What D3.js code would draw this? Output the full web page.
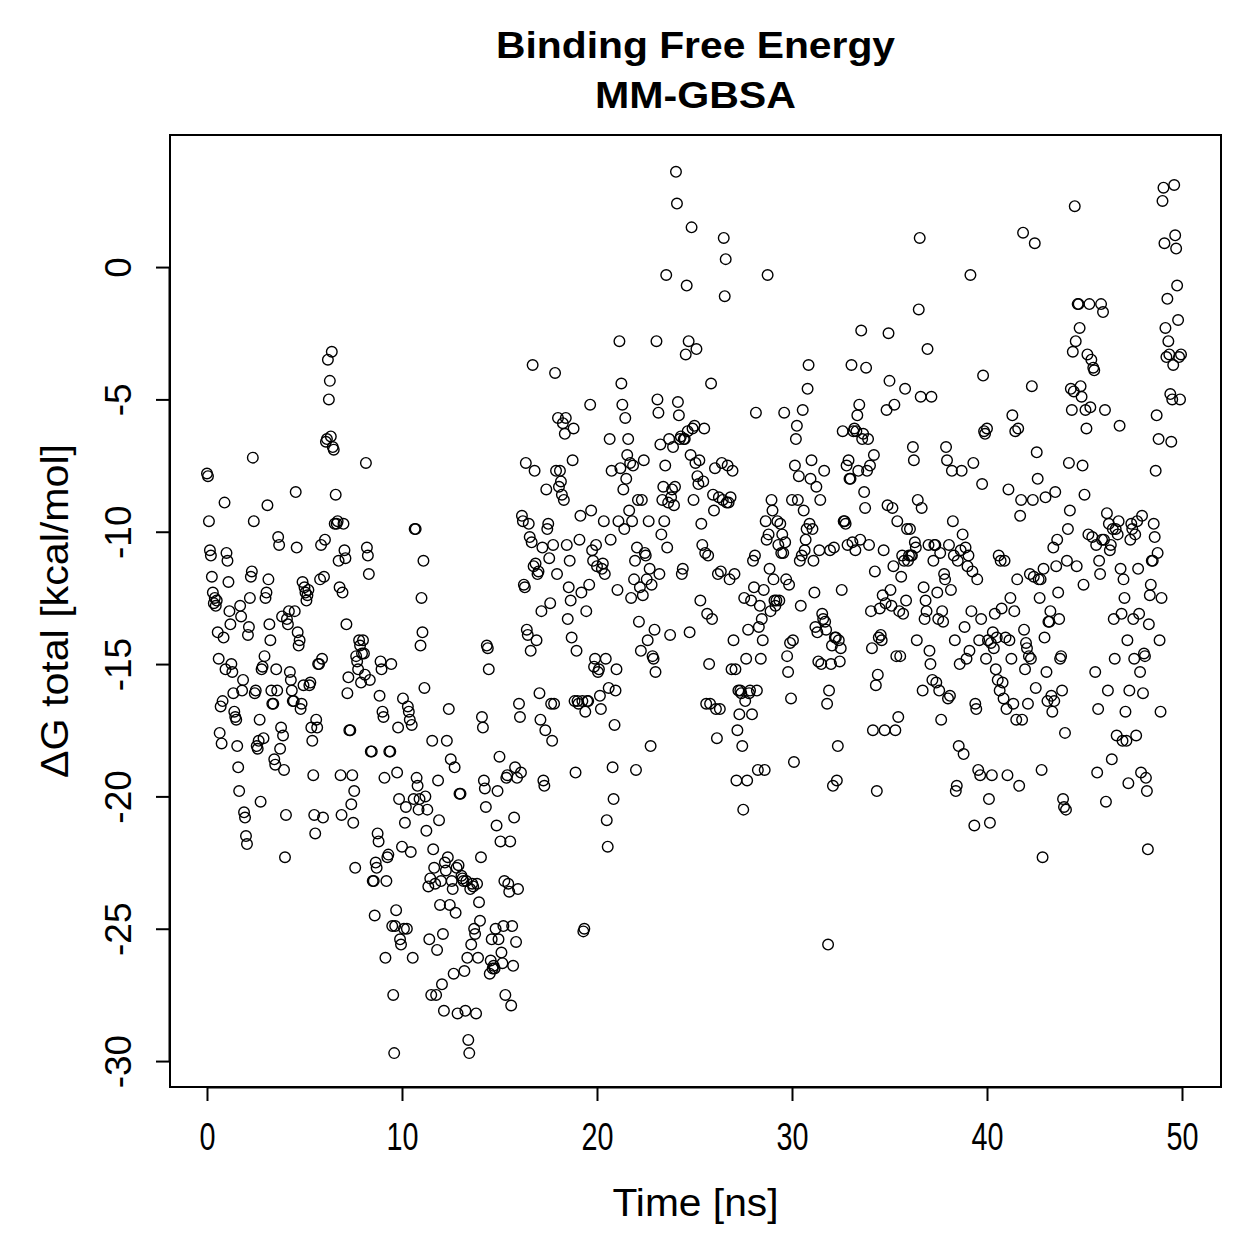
<!DOCTYPE html>
<html>
<head>
<meta charset="utf-8">
<script src="https://cdn.jsdelivr.net/npm/d3@7/dist/d3.min.js"></script>
<style>
  html, body { margin: 0; padding: 0; background: #fff; }
  text { font-family: "Liberation Sans", Arial, Helvetica, sans-serif; fill: #000; }
</style>
</head>
<body>
<svg id="chart" width="1259" height="1259"></svg>
<script>
// ---- data, one row per nanosecond ----
const titleLines = ["Binding Free Energy", "MM-GBSA"];
const xLabel = "Time [ns]";
const yLabel = "ΔG total [kcal/mol]";
const xTicks = [0, 10, 20, 30, 40, 50];
const yTicks = [0, -5, -10, -15, -20, -25, -30];

const deltaG = [
 [-7.8,-7.9,-9.6,-10.7,-10.9,-11.7,-12.3,-12.7,-12.5,-12.8,-12.6,-13.8,-14.8,-17.6,-16.6,-18.0,-16.4,-14.0,-8.9,-15.2],
 [-10.8,-11.1,-11.9,-13.0,-13.5,-15.0,-15.3,-16.1,-16.8,-17.0,-17.1,-18.1,-18.9,-19.8,-12.8,-13.2,-16.0,-15.6,-20.6,-20.8],
 [-21.5,-21.8,-13.9,-13.6,-12.5,-11.7,-11.5,-7.2,-9.6,-16.1,-16.0,-18.1,-18.2,-17.9,-17.1,-20.2,-15.2,-15.1,-17.8,-14.7],
 [-12.5,-12.3,-9.0,-11.8,-13.5,-14.1,-16.0,-16.5,-16.5,-18.6,-18.8,-15.2,-16.0,-10.2,-10.5,-18.2,-17.4,-13.2,-17.7,-19.0],
 [-22.3,-20.7,-13.3,-13.5,-13.0,-15.3,-15.6,-16.0,-16.4,-16.4,-13.0,-8.5,-10.6,-13.8,-14.3,-14.1,-16.7,-16.5,-11.9,-15.8],
 [-12.1,-12.3,-12.6,-12.4,-12.2,-15.8,-15.7,-17.4,-17.9,-19.2,-20.7,-21.4,-17.1,-17.4,-15.0,-15.0,-11.8,-10.5,-14.8,-20.8],
 [-11.7,-10.3,-6.6,-6.5,-3.5,-5.0,-4.3,-6.4,-3.2,-6.8,-6.9,-9.7,-8.6,-9.7,-9.6,-11.1,-12.1,-19.2,-20.7,-12.3],
 [-9.7,-10.7,-11.0,-13.5,-16.1,-15.5,-17.5,-17.5,-20.3,-19.2,-21.0,-19.8,-22.7,-14.7,-14.9,-15.2,-14.1,-14.3,-15.7,-14.6],
 [-14.1,-14.6,-15.4,-7.4,-10.6,-10.9,-11.6,-15.6,-18.3,-18.3,-23.2,-23.2,-24.5,-22.5,-22.7,-21.4,-21.7,-16.2,-14.9,-15.2],
 [-16.8,-17.0,-19.3,-26.1,-23.2,-22.3,-22.2,-18.3,-18.3,-15.0,-24.9,-27.5,-29.7,-24.9,-24.3,-19.1,-17.4,-20.1,-25.4,-25.6],
 [-21.9,-16.3,-25.0,-21.0,-20.4,-25.0,-16.6,-16.8,-17.1,-22.1,-17.3,-26.1,-20.1,-9.9,-9.9,-19.3,-19.6,-20.5,-20.1,-14.3],
 [-12.5,-13.8,-11.1,-15.9,-20.0,-21.3,-20.5,-23.4,-25.4,-23.1,-27.5,-17.9,-22.0,-22.7,-23.3,-27.5,-25.8,-19.4,-20.9,-24.1],
 [-23.2,-27.1,-25.2,-28.1,-22.5,-22.8,-17.9,-22.3,-16.7,-24.1,-18.6,-23.2,-23.5,-26.7,-18.9,-24.4,-22.7,-28.2,-22.6,-19.9],
 [-19.9,-23.0,-23.1,-23.2,-26.6,-28.1,-23.2,-26.1,-29.2,-29.7,-23.5,-25.6,-23.3,-23.4,-25.0,-25.2,-28.2,-23.3,-26.1,-24.0],
 [-24.7,-22.3,-17.0,-17.4,-19.4,-19.7,-20.4,-14.3,-14.4,-15.2,-26.7,-26.2,-25.4,-26.5,-26.4,-26.5,-25.0,-21.1,-19.8,-25.4],
 [-18.5,-21.7,-25.9,-26.3,-24.9,-23.2,-27.5,-19.3,-19.2,-23.3,-23.6,-21.7,-27.9,-24.9,-26.4,-20.8,-18.9,-25.5,-19.3,-23.5],
 [-16.5,-17.0,-19.1,-9.4,-9.6,-12.0,-12.1,-7.4,-13.7,-13.9,-9.7,-10.2,-14.5,-10.4,-3.7,-11.3,-7.7,-11.2,-14.1,-11.6],
 [-11.5,-16.1,-17.1,-13.0,-10.6,-19.4,-19.6,-17.5,-8.4,-9.9,-9.7,-11.0,-12.7,-16.5,-17.9,-10.5,-16.5,-4.0,-7.7,-11.6],
 [-5.7,-8.3,-7.7,-8.1,-8.6,-5.9,-8.8,-6.3,-5.7,-10.5,-13.3,-12.1,-11.1,-12.6,-14.0,-7.3,-6.1,-16.4,-19.1,-14.5],
 [-16.4,-16.5,-10.3,-9.4,-12.3,-16.4,-25.1,-25.0,-16.8,-13.0,-16.4,-16.4,-12.0,-5.2,-9.2,-10.7,-11.1,-15.1,-14.8,-10.5],
 [-11.3,-15.3,-15.2,-16.2,-16.7,-11.4,-11.2,-9.6,-11.6,-14.8,-20.9,-21.9,-15.9,-6.5,-10.3,-7.7,-18.9,-20.1,-17.3,-16.0],
 [-15.2,-12.2,-9.6,-2.8,-7.6,-4.4,-5.2,-8.4,-9.9,-5.7,-8.0,-7.1,-6.5,-9.2,-7.4,-12.5,-9.6,-7.5,-11.8,-11.1],
 [-19.0,-10.6,-8.8,-13.4,-12.1,-14.5,-8.8,-12.4,-7.3,-10.8,-10.9,-11.8,-14.1,-9.6,-11.4,-18.1,-12.0,-14.7,-14.8,-13.7],
 [-15.3,-2.8,-5.0,-5.5,-11.6,-6.7,-10.1,-8.8,-8.3,-9.6,-7.5,-0.3,-10.6,-8.9,-6.5,-13.9,-8.7,-8.4,-6.8,-9.0],
 [-8.3,3.6,2.4,-5.1,-5.6,-6.5,-6.4,-11.6,-11.4,-6.5,-6.5,-3.3,-0.7,-6.2,-2.8,-13.8,-7.1,1.5,-6.1,-8.8],
 [-6.0,-7.4,-3.1,-7.9,-8.2,-7.3,-12.6,-9.7,-10.5,-8.1,-6.1,-10.8,-16.5,-13.1,-10.9,-15.0,-16.5,-4.4,-13.3,-8.6],
 [-9.2,-7.6,-16.7,-17.8,-11.6,-8.7,-16.7,-11.5,-7.4,-8.8,1.1,-1.1,0.3,-8.9,-7.5,-8.9,-11.8,-8.7,-15.2,-7.7],
 [-14.1,-11.6,-15.2,-19.4,-17.5,-16.0,-16.9,-16.0,-16.1,-18.1,-20.5,-12.5,-16.4,-14.8,-19.4,-13.7,-16.1,-16.0,-12.6,-16.9],
 [-11.1,-12.1,-10.9,-5.5,-16.0,-19.0,-13.6,-12.8,-14.8,-13.3,-14.1,-12.2,-19.0,-9.6,-10.3,-0.3,-10.1,-11.4,-13.0,-8.8],
 [-9.2,-11.8,-12.6,-12.8,-12.6,-9.6,-10.5,-12.6,-9.7,-10.8,-10.1,-10.8,-5.5,-10.4,-11.8,-14.7,-15.3,-12.0,-14.2,-16.3],
 [-8.8,-14.1,-18.7,-7.5,-6.5,-6.0,-8.8,-7.9,-11.1,-12.8,-10.9,-5.4,-9.2,-10.7,-10.3,-9.9,-4.6,-3.7,-9.7,-8.0],
 [-7.3,-9.9,-11.1,-12.3,-13.6,-8.3,-13.8,-14.9,-10.7,-8.8,-15.0,-13.1,-13.3,-7.7,-13.4,-13.7,-16.5,-25.6,-16.0,-10.7],
 [-15.0,-14.3,-19.6,-10.6,-14.0,-14.0,-19.4,-18.1,-14.1,-14.9,-14.4,-12.2,-6.2,-9.6,-9.6,-9.7,-7.5,-10.5,-7.3,-8.0],
 [-8.0,-3.7,-10.4,-6.2,-6.1,-10.7,-6.2,-5.6,-7.7,-5.2,-10.3,-2.4,-6.5,-6.3,-8.5,-9.1,-3.8,-7.7,-6.5,-10.5],
 [-7.5,-13.0,-14.4,-17.5,-7.1,-11.5,-15.8,-19.8,-15.4,-14.0,-12.9,-13.9,-14.1,-12.4,-10.7,-17.5,-12.7,-5.4,-9.0,-2.5],
 [-4.3,-12.2,-12.8,-9.1,-11.3,-5.2,-17.5,-14.7,-9.6,-17.0,-13.0,-14.7,-11.7,-10.9,-13.1,-11.1,-4.6,-12.6,-9.9,-11.1],
 [-10.9,-9.9,-10.9,-10.9,-6.8,-7.3,-10.4,-10.6,-14.1,-8.8,-1.6,1.1,-4.9,-9.1,-16.0,-12.1,-13.3,-12.6,-13.0,-3.1],
 [-10.5,-14.5,-15.0,-4.9,-15.6,-11.1,-10.5,-10.5,-15.7,-12.3,-13.3,-16.0,-10.8,-17.1,-13.0,-13.4,-11.6,-11.8,-6.8,-7.3],
 [-16.3,-10.5,-16.2,-12.2,-7.7,-9.6,-10.9,-14.1,-19.8,-19.6,-11.1,-18.1,-15.0,-10.7,-7.7,-10.1,-18.4,-13.6,-10.6,-14.8],
 [-11.3,-10.9,-14.5,-0.3,-13.0,-11.5,-7.4,-21.1,-16.5,-16.7,-11.8,-19.0,-14.1,-19.2,-13.3,-8.2,-4.1,-6.2,-6.3,-14.8],
 [-6.1,-14.1,-20.1,-21.0,-14.2,-19.2,-13.8,-14.4,-13.1,-15.2,-14.0,-15.6,-10.9,-16.0,-11.1,-12.9,-15.7,-16.3,-11.1,-14.0],
 [-16.7,-19.2,-8.4,-14.1,-12.5,-14.8,-5.6,-16.5,-13.0,-6.2,-17.1,-11.8,-6.1,-19.6,-9.4,-8.8,-17.1,1.3,-13.7,-15.2],
 [-14.2,-14.4,-16.5,-14.7,-11.6,-14.8,-4.5,-8.8,-11.7,0.9,-15.9,-7.0,-8.0,-11.8,-12.5,-11.8,-19.0,-22.3,-11.4,-14.0],
 [-8.7,-15.3,-16.4,-13.4,-13.4,-13.0,-16.2,-16.8,-10.6,-16.4,-8.5,-11.3,-10.3,-12.3,-13.3,-14.8,-14.7,-16.0,-20.1,-20.4],
 [-17.6,-20.5,-11.1,-9.9,-7.4,-9.2,-4.6,-5.4,-3.2,-4.7,2.3,-2.8,-11.3,-1.4,-1.4,-2.3,-4.5,-4.9,-7.5,-12.0],
 [-8.6,-5.4,-6.1,-3.3,-10.1,-1.4,-5.3,-3.5,-10.2,-3.8,-3.9,-15.3,-10.5,-19.1,-16.7,-11.1,-11.6,-1.4,-10.3,-1.7],
 [-10.3,-5.4,-20.2,-9.3,-16.0,-9.7,-10.7,-10.5,-18.6,-9.9,-13.3,-14.8,-9.9,-17.7,-10.1,-9.6,-6.0,-11.4,-13.1,-17.9],
 [-11.8,-12.5,-16.8,-17.9,-14.1,-19.5,-16.0,-10.3,-9.7,-9.9,-13.3,-14.8,-10.1,-17.7,-9.6,-11.4,-13.1,-15.3,-19.1,-9.4],
 [-16.1,-14.6,-14.7,-19.3,-19.8,-22.0,-13.5,-12.4,-12.0,-11.1,-11.1,-9.7,-10.2,-7.7,-5.6,-10.8,-6.5,-14.1,-16.8,-12.5],
 [2.5,3.0,0.9,-2.3,-3.4,-1.2,-2.8,-3.3,-4.8,-6.6,-5.0,-3.7,3.1,1.2,0.7,-0.7,-2.0,-3.4,-5.0,-3.3]
];

// ---- layout ----
const svg = d3.select("#chart");
const W = 1259, H = 1259;
const plot = { left: 170, right: 1221, top: 135, bottom: 1087 };
const FONT = "'Liberation Sans', Arial, sans-serif";

svg.append("rect").attr("width", W).attr("height", H).attr("fill", "#fff");

const x = d3.scaleLinear().domain([-1.897, 52.0]).range([plot.left, plot.right]);
const y = d3.scaleLinear().domain([-30.98, 4.99]).range([plot.bottom, plot.top]);

const points = [];
deltaG.forEach((row, ns) => {
  row.forEach((v, j) => points.push({ t: ns + j / row.length, v }));
});

// points
svg.append("g")
  .selectAll("circle")
  .data(points)
  .enter().append("circle")
  .attr("cx", d => x(d.t))
  .attr("cy", d => y(d.v))
  .attr("r", 5.3)
  .attr("fill", "none")
  .attr("stroke", "#000")
  .attr("stroke-width", 1.4);

// box
svg.append("rect")
  .attr("x", plot.left).attr("y", plot.top)
  .attr("width", plot.right - plot.left).attr("height", plot.bottom - plot.top)
  .attr("fill", "none").attr("stroke", "#000").attr("stroke-width", 2);

// x axis
const xAxis = d3.axisBottom(x).tickValues(xTicks).tickSize(14).tickFormat(d => String(d));
const gx = svg.append("g").attr("transform", `translate(0,${plot.bottom})`).call(xAxis);
gx.select(".domain").attr("d", `M${x(0)},0.5H${x(50)}`).attr("stroke-width", 2);
gx.selectAll(".tick line").attr("stroke-width", 2);
gx.selectAll(".tick text")
  .attr("font-size", 39).attr("font-family", FONT)
  .attr("dy", null).attr("y", 63)
  .attr("textLength", d => String(d).length * 16)
  .attr("lengthAdjust", "spacingAndGlyphs");

// y axis
const yAxis = d3.axisLeft(y).tickValues(yTicks).tickSize(14).tickFormat(d => String(d));
const gy = svg.append("g").attr("transform", `translate(${plot.left},0)`).call(yAxis);
gy.select(".domain").attr("d", `M-0.5,${y(0)}V${y(-30)}`).attr("stroke-width", 2);
gy.selectAll(".tick line").attr("stroke-width", 2);
gy.selectAll(".tick text")
  .attr("font-size", 37).attr("font-family", FONT)
  .attr("x", null).attr("dy", null)
  .attr("text-anchor", "middle")
  .attr("transform", "translate(-39,0) rotate(-90)");

// titles
svg.append("text").attr("x", (plot.left + plot.right) / 2).attr("y", 58)
  .attr("text-anchor", "middle").attr("font-size", 36).attr("font-weight", "bold")
  .attr("textLength", 399).attr("lengthAdjust", "spacingAndGlyphs")
  .text(titleLines[0]);
svg.append("text").attr("x", (plot.left + plot.right) / 2).attr("y", 108)
  .attr("text-anchor", "middle").attr("font-size", 36).attr("font-weight", "bold")
  .attr("textLength", 201).attr("lengthAdjust", "spacingAndGlyphs")
  .text(titleLines[1]);

svg.append("text").attr("x", (plot.left + plot.right) / 2).attr("y", 1216)
  .attr("text-anchor", "middle").attr("font-size", 38)
  .attr("textLength", 166).attr("lengthAdjust", "spacingAndGlyphs")
  .text(xLabel);

svg.append("text")
  .attr("transform", `translate(68,${(plot.top + plot.bottom) / 2}) rotate(-90)`)
  .attr("text-anchor", "middle").attr("font-size", 38)
  .attr("textLength", 334).attr("lengthAdjust", "spacingAndGlyphs")
  .text(yLabel);
</script>
</body>
</html>
